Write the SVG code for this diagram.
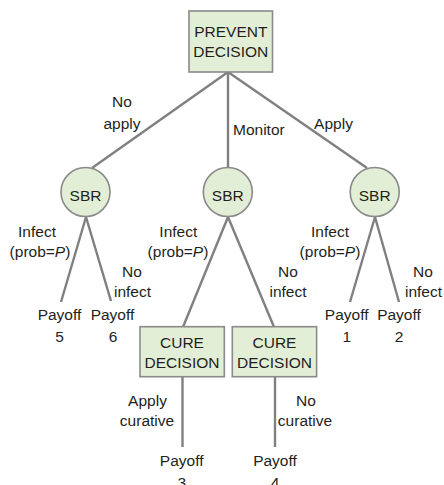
<svg xmlns="http://www.w3.org/2000/svg" width="444" height="485" viewBox="0 0 444 485">
<style>
  text { font-family: "Liberation Sans", Arial, sans-serif; font-size: 15.5px; fill: #231f20; }
  .c { text-anchor: middle; }
  .box { fill: #e3eed6; stroke: #8a8a8a; stroke-width: 1.6; }
  .node { fill: #e3eed6; stroke: #8a8a8a; stroke-width: 1.6; }
  .edge { stroke: #808080; stroke-width: 2.4; fill: none; stroke-linecap: butt; }
</style>
<rect width="444" height="485" fill="#ffffff"/>
<g id="connectors">
  <line class="edge" x1="228" y1="72" x2="92" y2="168"/>
  <line class="edge" x1="228" y1="72" x2="228" y2="167"/>
  <line class="edge" x1="228" y1="72" x2="367" y2="168"/>
  <line class="edge" x1="86" y1="217" x2="61" y2="302"/>
  <line class="edge" x1="86" y1="217" x2="111" y2="301"/>
  <line class="edge" x1="228" y1="217" x2="183" y2="327"/>
  <line class="edge" x1="228" y1="217" x2="274" y2="327"/>
  <line class="edge" x1="375" y1="217" x2="350" y2="302"/>
  <line class="edge" x1="375" y1="217" x2="399" y2="302"/>
  <line class="edge" x1="182.5" y1="377" x2="182.5" y2="447"/>
  <line class="edge" x1="275" y1="377" x2="275" y2="447"/>
</g>
<g id="labels">
  <text class="c" x="122" y="107">No</text>
  <text class="c" x="122" y="129">apply</text>
  <text x="233" y="135">Monitor</text>
  <text class="c" x="333.5" y="129">Apply</text>

  <text class="c" x="37" y="237">Infect</text>
  <text class="c" x="40" y="257">(prob=<tspan font-style="italic">P</tspan>)</text>
  <text class="c" x="132" y="277">No</text>
  <text class="c" x="132.5" y="297">infect</text>

  <text class="c" x="178.3" y="237">Infect</text>
  <text class="c" x="178" y="257">(prob=<tspan font-style="italic">P</tspan>)</text>
  <text class="c" x="288" y="277">No</text>
  <text class="c" x="288" y="297">infect</text>

  <text class="c" x="330" y="237">Infect</text>
  <text class="c" x="330" y="257">(prob=<tspan font-style="italic">P</tspan>)</text>
  <text class="c" x="423" y="277">No</text>
  <text class="c" x="423.5" y="297">infect</text>

  <text class="c" x="147.5" y="406">Apply</text>
  <text class="c" x="147" y="426">curative</text>
  <text class="c" x="306" y="406">No</text>
  <text class="c" x="305" y="426">curative</text>
</g>
<g id="prevent-decision">
  <rect class="box" x="189" y="11" width="83.5" height="61"/>
  <text class="c" x="230.8" y="37">PREVENT</text>
  <text class="c" x="230.8" y="57">DECISION</text>
</g>
<g id="sbr-left">
  <circle class="node" cx="85.5" cy="192" r="24.5"/>
  <text class="c" x="85.5" y="201">SBR</text>
</g>
<g id="sbr-middle">
  <circle class="node" cx="227.8" cy="192" r="24.5"/>
  <text class="c" x="227.8" y="201">SBR</text>
</g>
<g id="sbr-right">
  <circle class="node" cx="374.7" cy="192" r="24.5"/>
  <text class="c" x="374.7" y="201">SBR</text>
</g>
<g id="cure-decision-left">
  <rect class="box" x="140" y="326.7" width="84.3" height="50"/>
  <text class="c" x="182" y="347.5">CURE</text>
  <text class="c" x="182" y="367.5">DECISION</text>
</g>
<g id="cure-decision-right">
  <rect class="box" x="232.3" y="326.7" width="84.3" height="50"/>
  <text class="c" x="274.5" y="347.5">CURE</text>
  <text class="c" x="274.5" y="367.5">DECISION</text>
</g>
<g id="payoff-5">
  <text class="c" x="59.5" y="319.5">Payoff</text>
  <text class="c" x="59.5" y="341.5">5</text>
</g>
<g id="payoff-6">
  <text class="c" x="112.5" y="319.5">Payoff</text>
  <text class="c" x="113" y="341.5">6</text>
</g>
<g id="payoff-1">
  <text class="c" x="346.7" y="319.5">Payoff</text>
  <text class="c" x="346.7" y="341.5">1</text>
</g>
<g id="payoff-2">
  <text class="c" x="399" y="319.5">Payoff</text>
  <text class="c" x="399" y="341.5">2</text>
</g>
<g id="payoff-3">
  <text class="c" x="181.7" y="466">Payoff</text>
  <text class="c" x="181.7" y="488">3</text>
</g>
<g id="payoff-4">
  <text class="c" x="275" y="466">Payoff</text>
  <text class="c" x="275" y="488">4</text>
</g>
</svg>
